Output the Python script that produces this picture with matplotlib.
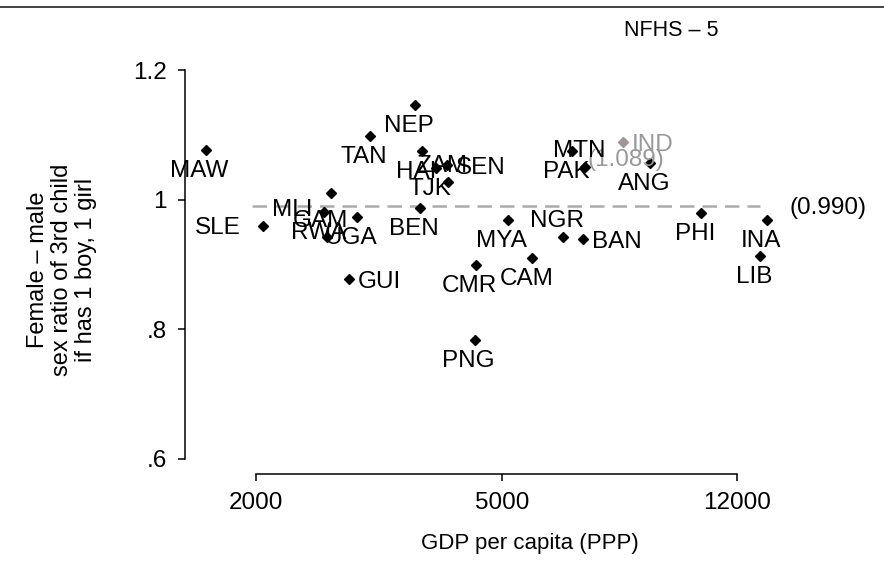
import numpy as np
import matplotlib.pyplot as plt
from matplotlib.lines import Line2D
from matplotlib.ticker import NullLocator

plt.rcParams['font.family'] = ['Liberation Sans', 'DejaVu Sans']

# country codes, GDP per capita (PPP) and female-male ratio of 3rd child
countries = ['MAW', 'SLE', 'MLI', 'RWA', 'UGA', 'GAM', 'GUI', 'TAN', 'NEP',
             'HAI', 'TJK', 'SEN', 'ZAM', 'BEN', 'PNG', 'CMR', 'MYA', 'CAM',
             'NGR', 'BAN', 'PAK', 'MTN', 'ANG', 'PHI', 'INA', 'LIB']
gdp = [1661, 2058, 2646, 2581, 2912, 2604, 2832, 3058, 3618,
       3718, 3911, 4070, 4086, 3686, 4517, 4534, 5107, 5597,
       6268, 6760, 6496, 6810, 8671, 10483, 13385, 13056]
ratio = [1.077, 0.960, 1.011, 0.981, 0.974, 0.943, 0.878, 1.099, 1.147,
         1.075, 1.049, 1.054, 1.028, 0.988, 0.784, 0.899, 0.969, 0.911,
         0.943, 0.940, 1.075, 1.051, 1.057, 0.980, 0.969, 0.914]
# clock position of each label (stata mlabvpos style)
label_pos = [6, 9, 8, 6, 6, 12, 3, 6, 6,
             6, 6, 3, 12, 6, 6, 6, 6, 6,
             12, 3, 6, 12, 6, 6, 6, 6]

# India highlighted
ind_name = 'IND'
ind_gdp = 7834
ind_ratio = 1.089

# mean line
mean_ratio = 0.990
mean_range = [1972, 13055]

yticks = [0.6, 0.8, 1.0, 1.2]
ytick_labels = ['.6', '.8', '1', '1.2']
xticks = [2000, 5000, 12000]
xtick_labels = ['2000', '5000', '12000']

# label offsets in pixels: dx, dy (down positive), alignment
offsets = {6: (-6, 21, 'center'), 12: (-6, -16, 'center'),
           3: (9, 3, 'left'), 9: (-23, 2, 'right'), 8: (-18, 17, 'right')}

W, H = 884, 566
fig = plt.figure(figsize=(W / 100, H / 100), dpi=100)
ax = fig.add_axes([185 / W, (H - 474) / H, (870 - 185) / W, (474 - 40) / H])
ax.set_xscale('log')
ax.set_xlim(1538, 19650)
ax.set_ylim(0.5768, 1.2471)

px = 0.72  # points per pixel
lab_fs = 17.5

ax.plot(mean_range, [mean_ratio] * 2, color='#aaaaaa', lw=1.8,
        dashes=(5.8, 3.2), zorder=1)
ax.annotate(f'({mean_ratio:.3f})', (mean_range[1], mean_ratio),
            xytext=(29 * px, -2 * px), textcoords='offset points',
            ha='left', va='center', fontsize=lab_fs)

ax.plot(gdp, ratio, 'D', color='black', ms=5.2, ls='none', zorder=3)
for name, x, y, p in zip(countries, gdp, ratio, label_pos):
    dx, dy, ha = offsets[p]
    ax.annotate(name, (x, y), xytext=(dx * px, -dy * px),
                textcoords='offset points', ha=ha, va='center',
                fontsize=lab_fs, zorder=4)

ax.plot([ind_gdp], [ind_ratio], 'D', color='#a09696', ms=5.2, zorder=3)
ax.annotate(ind_name, (ind_gdp, ind_ratio), xytext=(9 * px, -3 * px),
            textcoords='offset points', ha='left', va='center',
            fontsize=lab_fs, color='#999999')
ax.annotate(f'({ind_ratio:.3f})', (ind_gdp, ind_ratio),
            xytext=(3 * px, -18 * px), textcoords='offset points',
            ha='center', va='center', fontsize=lab_fs, color='#999999')

for s in ['top', 'right']:
    ax.spines[s].set_visible(False)
ax.spines['left'].set_bounds(0.6, 1.2)
ax.spines['bottom'].set_bounds(2000, 12000)
ax.spines['left'].set_linewidth(1.1)
ax.spines['bottom'].set_linewidth(1.1)

ax.set_yticks(yticks)
ax.set_yticklabels(ytick_labels)
ax.set_xticks(xticks)
ax.set_xticklabels(xtick_labels)
ax.xaxis.set_minor_locator(NullLocator())
ax.tick_params(direction='out', length=5, width=1.1, labelsize=17.5, pad=8)

fig.text(530 / W, 1 - 543 / H, 'GDP per capita (PPP)', ha='center',
         va='center', fontsize=16)
fig.text(62 / W, 1 - 270 / H,
         'Female – male\nsex ratio of 3rd child\nif has 1 boy, 1 girl',
         rotation=90, ha='center', va='center', multialignment='center',
         fontsize=17, linespacing=1.12)
fig.text(671 / W, 1 - 30 / H, 'NFHS – 5', ha='center', va='center',
         fontsize=15.5)

fig.add_artist(Line2D([0, 1], [1 - 7 / H] * 2, transform=fig.transFigure,
                      color='#222222', lw=1.2))

fig.savefig('out.png', dpi=100, facecolor='white')
